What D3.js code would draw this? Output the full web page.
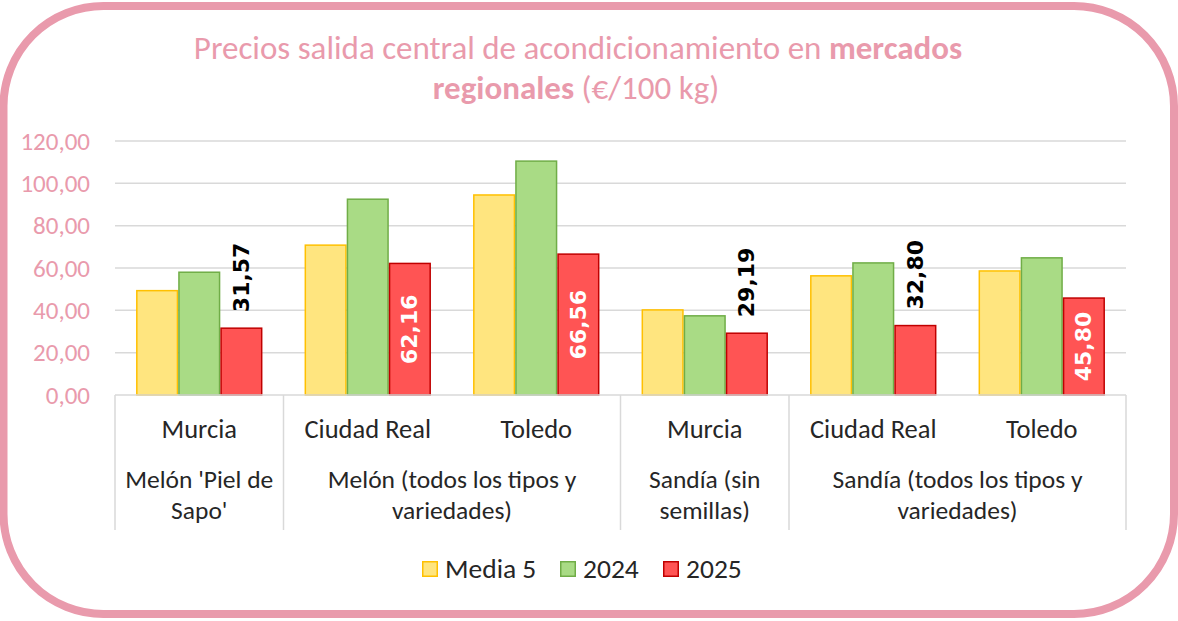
<!DOCTYPE html>
<html>
<head>
<meta charset="utf-8">
<script src="https://cdn.jsdelivr.net/npm/d3@7"></script>
<style>
  html, body { margin: 0; padding: 0; background: #fff; }
  svg { display: block; font-family: Carlito, Calibri, Lato, sans-serif; }
</style>
</head>
<body>
<svg id="chart" width="1178" height="621"></svg>
<script>
// datos
const cities = ["Murcia", "Ciudad Real", "Toledo", "Murcia", "Ciudad Real", "Toledo"];
const productLines = [
  ["Melón 'Piel de", "Sapo'"],
  ["Melón (todos los tipos y", "variedades)"],
  ["Sandía (sin", "semillas)"],
  ["Sandía (todos los tipos y", "variedades)"]
];
const productSpans = [1, 2, 1, 2];
const seriesNames = ["Media 5", "2024", "2025"];
const media5 = [49.3, 70.8, 94.5, 40.2, 56.3, 58.6];
const y2024 = [58.0, 92.5, 110.5, 37.4, 62.4, 64.8];
const y2025 = [31.57, 62.16, 66.56, 29.19, 32.80, 45.80];
const yTicks = [0, 20, 40, 60, 80, 100, 120];

const fills = ["#FFE57F", "#A9DB85", "#FF5454"];
const strokes = ["#FFC000", "#70AD47", "#C00000"];
const pink = "#E99AAC";

const es = d3.formatLocale({ decimal: ",", thousands: ".", grouping: [3], currency: ["", " €"] });
const fmt = es.format(".2f");

const svg = d3.select("#chart");

// marco redondeado
svg.append("rect")
  .attr("x", 3.5).attr("y", 6)
  .attr("width", 1170.5).attr("height", 608)
  .attr("rx", 100).attr("ry", 100)
  .attr("fill", "#fff")
  .attr("stroke", pink)
  .attr("stroke-width", 8);

// título
const title = svg.append("text")
  .attr("text-anchor", "middle")
  .attr("fill", pink)
  .attr("font-size", 33);
const t1 = title.append("tspan").attr("x", 578).attr("y", 59);
t1.append("tspan").text("Precios salida central de acondicionamiento en ");
t1.append("tspan").attr("font-weight", "bold").text("mercados");
const t2 = title.append("tspan").attr("x", 576).attr("y", 99);
t2.append("tspan").attr("font-weight", "bold").text("regionales");
t2.append("tspan").text(" (€/100 kg)");

// escalas
const plotLeft = 115, plotRight = 1126, plotTop = 141, plotBottom = 395;
const y = d3.scaleLinear().domain([0, 120]).range([plotBottom, plotTop]);
const x0 = d3.scaleBand().domain(d3.range(cities.length)).range([plotLeft, plotRight]).paddingInner(0).paddingOuter(0);
const x1 = d3.scaleBand().domain(d3.range(seriesNames.length)).range([0, x0.bandwidth()]).paddingInner(0).paddingOuter(0.5);

// rejilla
svg.append("g")
  .selectAll("line")
  .data(yTicks.slice(1))
  .join("line")
  .attr("x1", plotLeft).attr("x2", plotRight)
  .attr("y1", d => y(d)).attr("y2", d => y(d))
  .attr("stroke", "#D9D9D9").attr("stroke-width", 1.5);

// eje Y
const yAxis = svg.append("g")
  .attr("transform", `translate(${plotLeft - 25},0)`)
  .call(d3.axisLeft(y).tickValues(yTicks).tickFormat(fmt).tickSize(0).tickPadding(0));
yAxis.select(".domain").remove();
yAxis.selectAll("text")
  .attr("fill", pink)
  .attr("font-size", 25)
  .attr("font-family", "Carlito, Calibri, Lato, sans-serif");

// barras
const series = [media5, y2024, y2025];
const groups = svg.append("g")
  .selectAll("g")
  .data(cities.map((c, i) => i))
  .join("g")
  .attr("transform", i => `translate(${x0(i)},0)`);

groups.selectAll("rect")
  .data(i => series.map((s, k) => ({ k, v: s[i] })))
  .join("rect")
  .attr("x", d => x1(d.k) + 0.75)
  .attr("width", x1.bandwidth() - 1.5)
  .attr("y", d => y(d.v))
  .attr("height", d => y(0) - y(d.v))
  .attr("fill", d => fills[d.k])
  .attr("stroke", d => strokes[d.k])
  .attr("stroke-width", 1.5);

// etiquetas 2025: centradas dentro si caben, encima si no
groups.append("text")
  .each(function (i) {
    const v = y2025[i];
    const cx = x1(2) + x1.bandwidth() / 2;
    const inside = (y(0) - y(v)) > 90;
    const ty = inside ? (y(v) + y(0)) / 2 : y(v) - 16;
    d3.select(this)
      .attr("transform", `translate(${cx + 7.5},${ty}) rotate(-90)`)
      .attr("text-anchor", inside ? "middle" : "start")
      .attr("fill", inside ? "#fff" : "#000")
      .text(fmt(v));
  })
  .attr("font-family", "'DejaVu Sans', sans-serif")
  .attr("font-weight", "bold")
  .attr("font-size", 22);

// eje X: línea base y separadores
svg.append("line")
  .attr("x1", plotLeft).attr("x2", plotRight)
  .attr("y1", plotBottom).attr("y2", plotBottom)
  .attr("stroke", "#D9D9D9").attr("stroke-width", 1.5);

const sepIdx = [0];
productSpans.reduce((acc, s) => { sepIdx.push(acc + s); return acc + s; }, 0);
const sepX = i => i < cities.length ? x0(i) : plotRight;
svg.append("g")
  .selectAll("line")
  .data(sepIdx)
  .join("line")
  .attr("x1", sepX)
  .attr("x2", sepX)
  .attr("y1", plotBottom).attr("y2", 530)
  .attr("stroke", "#D9D9D9").attr("stroke-width", 1.5);

// ciudades
svg.append("g")
  .selectAll("text")
  .data(cities)
  .join("text")
  .attr("x", (d, i) => x0(i) + x0.bandwidth() / 2)
  .attr("y", 438)
  .attr("text-anchor", "middle")
  .attr("font-size", 26.5)
  .attr("fill", "#262626")
  .text(d => d);

// productos
const prodG = svg.append("g");
productLines.forEach((lines, p) => {
  const x = (sepX(sepIdx[p]) + sepX(sepIdx[p + 1])) / 2;
  prodG.append("text")
    .attr("text-anchor", "middle")
    .attr("font-size", 25.5)
    .attr("fill", "#262626")
    .selectAll("tspan")
    .data(lines)
    .join("tspan")
    .attr("x", x)
    .attr("y", (d, j) => 488 + j * 31)
    .text(d => d);
});

// leyenda
const legendX = [422, 560, 663];
const leg = svg.append("g")
  .selectAll("g")
  .data(seriesNames)
  .join("g")
  .attr("transform", (d, k) => `translate(${legendX[k]},561)`);
leg.append("rect")
  .attr("x", 0.75).attr("y", 0.75)
  .attr("width", 14.5).attr("height", 14.5)
  .attr("fill", (d, k) => fills[k])
  .attr("stroke", (d, k) => strokes[k])
  .attr("stroke-width", 1.5);
leg.append("text")
  .attr("x", 23).attr("y", 16.5)
  .attr("font-size", 27.5)
  .attr("fill", "#262626")
  .text(d => d);
</script>
</body>
</html>
